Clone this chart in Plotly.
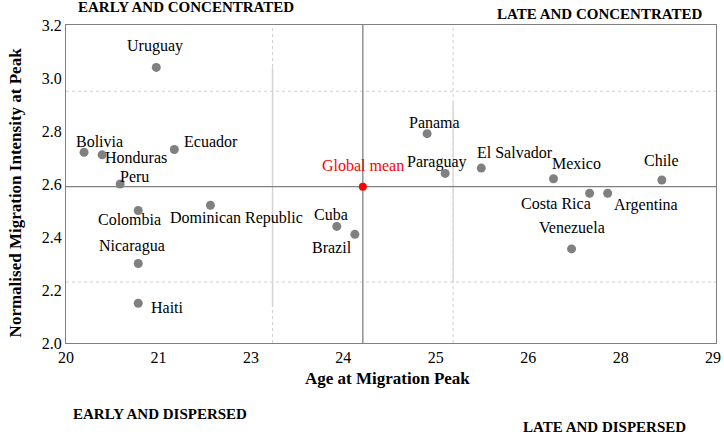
import plotly.graph_objects as go

# ---- data ----
countries = ["Uruguay", "Bolivia", "Honduras", "Ecuador", "Peru", "Colombia",
             "Dominican Republic", "Nicaragua", "Haiti", "Cuba", "Brazil",
             "Panama", "Paraguay", "El Salvador", "Mexico", "Chile",
             "Costa Rica", "Argentina", "Venezuela"]
age_at_peak = [21.25, 20.25, 20.5, 21.5, 20.75, 21.0,
               22.0, 21.0, 21.0, 23.75, 24.0,
               25.0, 25.25, 25.75, 26.75, 28.25,
               27.25, 27.5, 27.0]
intensity_at_peak = [3.04, 2.72, 2.71, 2.73, 2.60, 2.50,
                     2.52, 2.30, 2.15, 2.44, 2.41,
                     2.79, 2.64, 2.66, 2.62, 2.615,
                     2.565, 2.565, 2.355]

global_mean_label = "Global mean"
global_mean_age = 24.11
global_mean_intensity = 2.59
age_spread = 1.25
intensity_spread = 0.36

x_range = [20, 29]
y_range = [2.0, 3.2]
x_tick_start = 20
x_tick_step = 1.28
x_tick_count = 8
y_tick_values = [2.0, 2.2, 2.4, 2.6, 2.8, 3.0, 3.2]

quadrant_labels = ["EARLY AND CONCENTRATED", "LATE AND CONCENTRATED",
                   "EARLY AND DISPERSED", "LATE AND DISPERSED"]

# ---- label placement (pixel offsets from each point: dx right, dy up) ----
label_offsets = {
    "Uruguay": (-1, 21), "Bolivia": (15, 11), "Honduras": (34, -3),
    "Ecuador": (37, 8), "Peru": (14, 8), "Colombia": (-9, -9),
    "Dominican Republic": (26, -13), "Nicaragua": (-6, 18), "Haiti": (29, -4),
    "Cuba": (-6, 12), "Brazil": (-23, -13), "Panama": (7, 11),
    "Paraguay": (-8, 11), "El Salvador": (34, 16), "Mexico": (23, 15),
    "Chile": (0, 20), "Costa Rica": (-34, -10), "Argentina": (38, -12),
    "Venezuela": (0, 21),
}

SERIF = "Liberation Serif, Times New Roman, serif"
GREY = "#808080"

fig = go.Figure()

shapes = [
    dict(type="line", x0=x_range[0], x1=x_range[1], y0=global_mean_intensity - intensity_spread,
         y1=global_mean_intensity - intensity_spread, line=dict(color="#cfcfcf", width=1, dash="dot"), layer="below"),
    dict(type="line", x0=x_range[0], x1=x_range[1], y0=global_mean_intensity + intensity_spread,
         y1=global_mean_intensity + intensity_spread, line=dict(color="#cfcfcf", width=1, dash="dot"), layer="below"),
    dict(type="line", x0=global_mean_age - age_spread, x1=global_mean_age - age_spread, y0=y_range[0],
         y1=y_range[1], line=dict(color="#cfcfcf", width=1, dash="dot"), layer="below"),
    dict(type="line", x0=global_mean_age + age_spread, x1=global_mean_age + age_spread, y0=y_range[0],
         y1=y_range[1], line=dict(color="#cfcfcf", width=1, dash="dot"), layer="below"),
    dict(type="line", x0=global_mean_age - age_spread, x1=global_mean_age - age_spread,
         y0=global_mean_intensity - 0.45, y1=global_mean_intensity + 0.45,
         line=dict(color="#d4d4d4", width=1.5), layer="below"),
    dict(type="line", x0=global_mean_age + age_spread, x1=global_mean_age + age_spread,
         y0=global_mean_intensity - 0.36, y1=global_mean_intensity + 0.32,
         line=dict(color="#dadada", width=1.5), layer="below"),
    dict(type="line", x0=x_range[0], x1=x_range[1], y0=global_mean_intensity, y1=global_mean_intensity,
         line=dict(color=GREY, width=1.3), layer="below"),
    dict(type="line", x0=global_mean_age, x1=global_mean_age, y0=y_range[0], y1=y_range[1],
         line=dict(color=GREY, width=1.3), layer="below"),
]

fig.add_trace(go.Scatter(
    x=age_at_peak, y=intensity_at_peak, mode="markers",
    marker=dict(color=GREY, size=9), text=countries, hoverinfo="text+x+y",
    showlegend=False))
fig.add_trace(go.Scatter(
    x=[global_mean_age], y=[global_mean_intensity], mode="markers",
    marker=dict(color="#ff0000", size=8), showlegend=False))

annotations = []
for name, xv, yv in zip(countries, age_at_peak, intensity_at_peak):
    dx, dy = label_offsets[name]
    annotations.append(dict(x=xv, y=yv, xref="x", yref="y", text=name, showarrow=False,
                            xshift=dx, yshift=dy, font=dict(family=SERIF, size=16, color="black")))
annotations.append(dict(x=global_mean_age, y=global_mean_intensity, xref="x", yref="y",
                        text=global_mean_label, showarrow=False, xshift=0, yshift=21,
                        font=dict(family=SERIF, size=16, color="#ff0000")))

PLOT_L, PLOT_R, PLOT_T, PLOT_B = 66, 721, 25, 343
W, H = 724, 434
def px(xp):
    return (xp - PLOT_L) / (PLOT_R - PLOT_L)
def py(yp):
    return (PLOT_B - yp) / (PLOT_B - PLOT_T)

quad_pos = [(187, 7), (604, 14), (161, 414), (609, 427)]
for txt, (qx, qy) in zip(quadrant_labels, quad_pos):
    annotations.append(dict(x=px(qx), y=py(qy), xref="paper", yref="paper", text="<b>%s</b>" % txt,
                            showarrow=False, xanchor="center", yanchor="middle",
                            font=dict(family=SERIF, size=15, color="black")))

annotations.append(dict(x=px(390), y=py(378), xref="paper", yref="paper",
                        text="<b>Age at Migration Peak</b>", showarrow=False,
                        xanchor="center", yanchor="middle",
                        font=dict(family=SERIF, size=17, color="black")))
annotations.append(dict(x=px(15), y=py(192), xref="paper", yref="paper",
                        text="<b>Normalised Migration Intensity at Peak</b>", showarrow=False,
                        textangle=-90, xanchor="center", yanchor="middle",
                        font=dict(family=SERIF, size=17, color="black")))

x_tick_vals = [round(x_tick_start + i * x_tick_step, 6) for i in range(x_tick_count)]
x_tick_text = [str(int(round(v))) for v in x_tick_vals]

fig.update_layout(
    width=W, height=H, autosize=False,
    margin=dict(l=PLOT_L, r=W - PLOT_R, t=PLOT_T, b=H - PLOT_B),
    paper_bgcolor="white", plot_bgcolor="white",
    shapes=shapes, annotations=annotations,
    font=dict(family=SERIF, size=16, color="black"),
    xaxis=dict(range=x_range, tickvals=x_tick_vals, ticktext=x_tick_text, showgrid=False,
               zeroline=False, showline=True, linecolor=GREY, linewidth=1.3, mirror=True,
               ticks="", ticklabeloverflow="allow",
               tickfont=dict(family=SERIF, size=16, color="black")),
    yaxis=dict(range=y_range, tickvals=y_tick_values, tickformat=".1f", showgrid=False,
               zeroline=False, showline=True, linecolor=GREY, linewidth=1.3, mirror=True,
               ticks="", tickfont=dict(family=SERIF, size=16, color="black")),
)

fig.write_html("out.html", config={"displayModeBar": False},
               post_script="document.body.style.margin='0';document.body.style.overflow='hidden';")
